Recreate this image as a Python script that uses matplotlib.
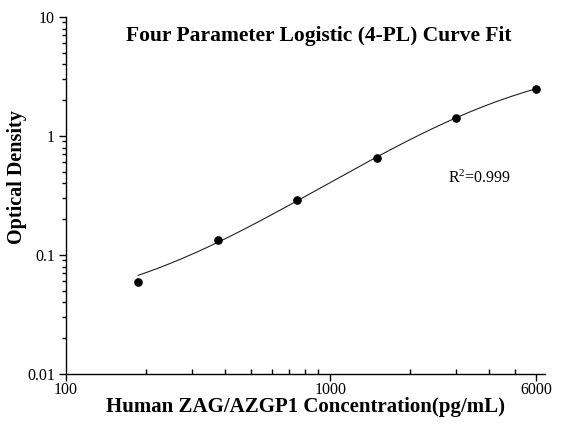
import numpy as np
import matplotlib
matplotlib.use("Agg")
import matplotlib.pyplot as plt
from matplotlib.ticker import LogLocator, FixedLocator, NullFormatter, FixedFormatter

# ---- data ----
concentration = [187.5, 375, 750, 1500, 3000, 6000]     # pg/mL
optical_density = [0.0596, 0.1346, 0.292, 0.657, 1.428, 2.49]
x_tick_values = [100, 1000, 6000]
x_tick_labels = ["100", "1000", "6000"]
y_tick_values = [0.01, 0.1, 1, 10]
y_tick_labels = ["0.01", "0.1", "1", "10"]
r2_text = "R$^{2}$=0.999"

# ---- 4-PL fit (Levenberg-Marquardt, numpy only) ----
xd = np.array(concentration, float)
yd = np.array(optical_density, float)

def fourpl(x, p):
    a, b, logc, d = p
    return d + (a - d) / (1.0 + (x / np.exp(logc)) ** b)

p = np.array([0.0, 1.0, np.log(3000.0), 5.0])
lam = 1e-3
cost = np.sum((yd - fourpl(xd, p)) ** 2)
for _ in range(2000):
    r = yd - fourpl(xd, p)
    J = np.zeros((len(xd), len(p)))
    for k in range(len(p)):
        h = 1e-6 * max(1.0, abs(p[k]))
        pp = p.copy(); pp[k] += h
        J[:, k] = (fourpl(xd, pp) - fourpl(xd, p)) / h
    A = J.T @ J
    g = J.T @ r
    try:
        dp = np.linalg.solve(A + lam * np.diag(np.diag(A) + 1e-12), g)
    except np.linalg.LinAlgError:
        lam *= 10
        continue
    pn = p + dp
    cn = np.sum((yd - fourpl(xd, pn)) ** 2)
    if np.isfinite(cn) and cn < cost:
        p, cost = pn, cn
        lam = max(lam / 3, 1e-12)
    else:
        lam *= 3
    if lam > 1e12:
        break

xc = np.logspace(np.log10(xd.min()), np.log10(xd.max()), 300)
yc = fourpl(xc, p)

# ---- figure ----
plt.rcParams['font.family'] = ['Liberation Serif', 'DejaVu Serif']
plt.rcParams['mathtext.fontset'] = 'custom'
plt.rcParams['mathtext.rm'] = 'Liberation Serif'
plt.rcParams['mathtext.it'] = 'Liberation Serif:italic'
plt.rcParams['mathtext.bf'] = 'Liberation Serif:bold'

fig = plt.figure(figsize=(5.66, 4.28), dpi=100)
ax = fig.add_axes([66 / 566, 54 / 428, 479 / 566, 357 / 428])

ax.plot(xc, yc, color='#202020', lw=0.8, zorder=2)
ax.plot(xd, yd, 'o', color='black', markersize=5.2, zorder=3)

ax.set_xscale('log')
ax.set_yscale('log')
ax.set_xlim(100, 6500)
ax.set_ylim(0.01, 10)

for s in ['top', 'right']:
    ax.spines[s].set_visible(False)
for s in ['left', 'bottom']:
    ax.spines[s].set_linewidth(1.0)

ax.xaxis.set_major_locator(FixedLocator(x_tick_values))
ax.xaxis.set_major_formatter(FixedFormatter(x_tick_labels))
ax.xaxis.set_minor_locator(LogLocator(base=10, subs=np.arange(2, 10)))
ax.xaxis.set_minor_formatter(NullFormatter())
ax.yaxis.set_major_locator(FixedLocator(y_tick_values))
ax.yaxis.set_major_formatter(FixedFormatter(y_tick_labels))
ax.yaxis.set_minor_locator(LogLocator(base=10, subs=np.arange(2, 10)))
ax.yaxis.set_minor_formatter(NullFormatter())

ax.tick_params(axis='x', which='major', direction='out', length=5, width=1, labelsize=11.5, pad=1)
ax.tick_params(axis='x', which='minor', direction='in', length=3.5, width=1)
ax.tick_params(axis='y', which='major', direction='out', length=5, width=1, labelsize=11.5, pad=3)
ax.tick_params(axis='y', which='minor', direction='out', length=3, width=1)

ax.text(2800, 0.44, r2_text, fontsize=11.5, ha='left', va='center')

fig.text(319 / 566, 1 - 36 / 428, "Four Parameter Logistic (4-PL) Curve Fit",
         fontsize=15.5, fontweight='bold', ha='center', va='center')
fig.text(305 / 566, 1 - 407 / 428, "Human ZAG/AZGP1 Concentration(pg/mL)",
         fontsize=15, fontweight='bold', ha='center', va='center')
fig.text(17 / 566, 1 - 177 / 428, "Optical Density",
         fontsize=14.5, fontweight='bold', ha='center', va='center', rotation=90)

fig.savefig("out.png", dpi=100, facecolor='white')
